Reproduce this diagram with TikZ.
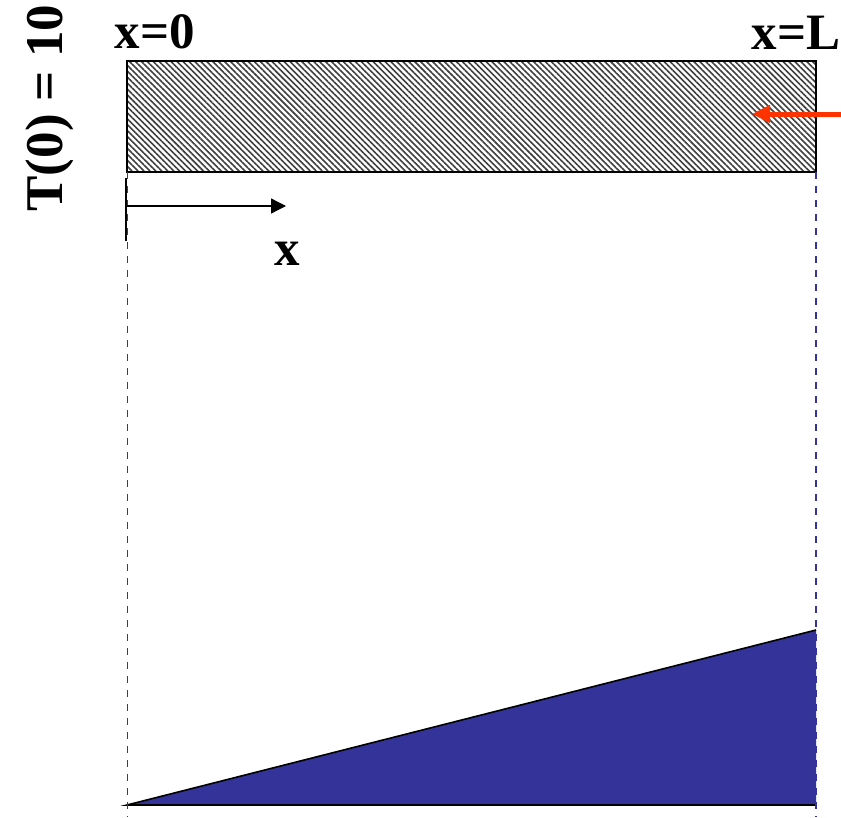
\documentclass[tikz,border=0pt]{standalone}
\usepackage{fontspec}
\setmainfont{Liberation Serif}
\usetikzlibrary{patterns.meta,arrows.meta}
\definecolor{navy}{RGB}{51,51,153}
\definecolor{hotred}{RGB}{255,51,0}
\begin{document}
\begin{tikzpicture}[x=1pt,y=-1pt,
  lbl/.style={font=\fontsize{51}{51}\selectfont\bfseries, inner sep=0pt},
  guide/.style={navy, line width=1.4pt, dash pattern=on 7pt off 7pt}]
\useasboundingbox (0,0) rectangle (841,817);
% bar
\fill[white] (127,61) rectangle (816,172);
\fill[pattern={Lines[angle=-45,distance=4.2pt,line width=1.6pt]}, pattern color=black!75] (127,61) rectangle (816,172);
\draw[line width=1.5pt] (127,61) rectangle (816,172);
% triangle profile
\coordinate (p0) at (127,805);
\coordinate (pL) at (816,805);
\coordinate (pT) at (816,630);
\fill[navy] (p0) -- (pL) -- (pT) -- cycle;
\draw[line width=1.6pt] (pT) -- (p0) -- (pL);
% guides
\coordinate (g0t) at (127.5,172);
\coordinate (g0b) at (127.5,817);
\coordinate (gLt) at (816,172);
\coordinate (gLb) at (816,817);
\draw[guide] (g0t) -- (g0b);
\draw[guide] (gLt) -- (gLb);
% x axis
\coordinate (tk1) at (126,178);
\coordinate (tk2) at (126,241);
\draw[line width=2pt] (tk1) -- (tk2);
\coordinate (ax0) at (127,206);
\coordinate (ax1) at (286,206);
\draw[line width=1.3pt, -{Triangle[length=15pt,width=15pt]}] (ax0) -- (ax1);
\node[lbl, anchor=base] (xl) at (287,265) {x};
% labels
\node[lbl, anchor=base] (x0) at (155,48) {x=0};
\node[lbl, anchor=base] (xL) at (796,49) {x=L};
\node[lbl, font=\fontsize{53}{53}\selectfont\bfseries, rotate=90, anchor=base] (T0) at (62,108) {T(0) = 10};
% red arrow
\coordinate (r0) at (841,114);
\coordinate (r1) at (752,114);
\draw[hotred, line width=5pt, -{Triangle[length=18pt,width=17pt]}] (r0) -- (r1);
\end{tikzpicture}
\end{document}
